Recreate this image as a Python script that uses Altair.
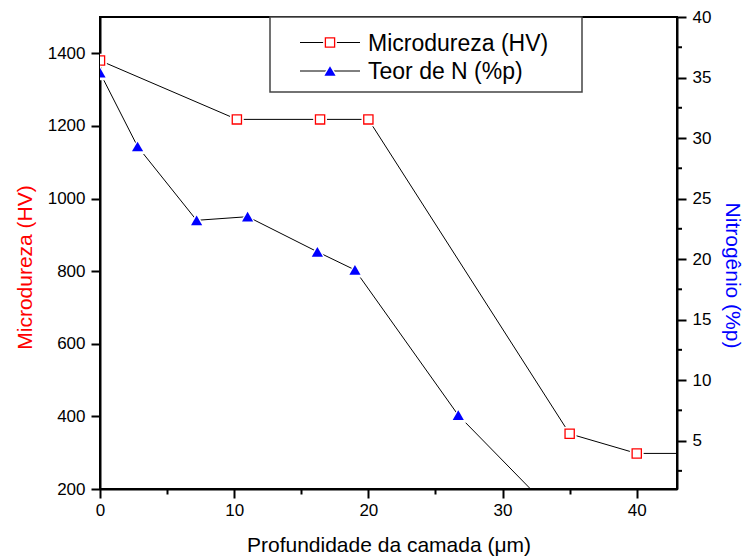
import altair as alt
import pandas as pd

# ---- data ----
depth_hv = [0.0, 10.2, 16.4, 20.0, 35.0, 40.0, 45.0]
hardness = [1380, 1218, 1218, 1218, 352, 298, 298]

depth_n = [0.0, 2.8, 7.2, 11.0, 16.2, 19.0, 26.7, 35.0]
nitrogen = [35.4, 29.3, 23.2, 23.5, 20.6, 19.1, 7.1, -2.3]

legend_labels = ["Microdureza (HV)", "Teor de N (%p)"]

x_ticks = [0, 5, 10, 15, 20, 25, 30, 35, 40]
hv_ticks = [200, 300, 400, 500, 600, 700, 800, 900, 1000, 1100, 1200, 1300, 1400]
n_major = [5, 10, 15, 20, 25, 30, 35, 40]
n_minor = [2.5, 7.5, 12.5, 17.5, 22.5, 27.5, 32.5, 37.5]

FONT = "Liberation Sans"
RED = "#FF0000"
BLUE = "#0000FF"
W, H = 577, 472

df_hv = pd.DataFrame({"depth": depth_hv, "hv": hardness})
df_n = pd.DataFrame({"depth": depth_n, "n": nitrogen})

x_scale = alt.Scale(domain=[0, 43], nice=False, zero=False)
hv_scale = alt.Scale(domain=[200, 1500], nice=False, zero=False)
n_scale = alt.Scale(domain=[1.0, 40], nice=False, zero=False)


def major_minor(test):
    return {"condition": {"test": test, "value": 9}, "value": 5}


x_axis = alt.Axis(
    values=x_ticks, format="d",
    labelExpr="datum.value % 10 === 0 ? datum.label : ''",
    tickSize=major_minor("datum.value % 10 === 0"),
    labelFlush=False, labelOverlap=False, labelPadding=4,
    title="Profundidade da camada (μm)", titleFontSize=21, titleFontWeight="normal",
    titlePadding=16, grid=False,
)
hv_axis = alt.Axis(
    orient="left", values=hv_ticks, format="d",
    labelExpr="datum.value % 200 === 0 ? datum.label : ''",
    tickSize=major_minor("datum.value % 200 === 0"),
    labelFlush=False, labelOverlap=False, labelPadding=6,
    title="Microdureza (HV)", titleColor=RED, titleFontSize=21, titleFontWeight="normal",
    titleX=-75, titleY=250, titleAngle=270, titleAlign="center", titleBaseline="middle",
    grid=False,
)
n_axis = alt.Axis(
    orient="right", values=n_major, format="d", tickSize=9,
    labelFlush=False, labelOverlap=False, labelPadding=6,
    title="Nitrogênio (%p)", titleColor=BLUE, titleFontSize=21, titleFontWeight="normal",
    titleX=54, titleY=258, titleAngle=90, titleAlign="center", titleBaseline="middle",
    grid=False,
)

# ---- left (hardness) group ----
hv_line = alt.Chart(df_hv).mark_line(color="black", strokeWidth=1, clip=True).encode(
    x=alt.X("depth:Q", scale=x_scale, axis=x_axis),
    y=alt.Y("hv:Q", scale=hv_scale, axis=hv_axis),
)
hv_halo = alt.Chart(df_hv).mark_point(shape="square", size=190, filled=True, color="white",
                                      opacity=1, clip=True).encode(
    x=alt.X("depth:Q", scale=x_scale),
    y=alt.Y("hv:Q", scale=hv_scale),
)
hv_pts = alt.Chart(df_hv).mark_point(shape="square", size=85, fill="white", stroke=RED,
                                     strokeWidth=1.3, opacity=1, fillOpacity=1, clip=True).encode(
    x=alt.X("depth:Q", scale=x_scale),
    y=alt.Y("hv:Q", scale=hv_scale),
)
left = alt.layer(hv_line, hv_halo, hv_pts)

# ---- right (nitrogen) group ----
n_line = alt.Chart(df_n).mark_line(color="black", strokeWidth=1, clip=True).encode(
    x=alt.X("depth:Q", scale=x_scale),
    y=alt.Y("n:Q", scale=n_scale, axis=n_axis),
)
n_halo = alt.Chart(df_n).mark_point(shape="triangle-up", size=300, filled=True, color="white",
                                    opacity=1, clip=True).encode(
    x=alt.X("depth:Q", scale=x_scale),
    y=alt.Y("n:Q", scale=n_scale),
)
n_pts = alt.Chart(df_n).mark_point(shape="triangle-up", size=125, filled=True, color=BLUE,
                                   opacity=1, clip=True).encode(
    x=alt.X("depth:Q", scale=x_scale),
    y=alt.Y("n:Q", scale=n_scale),
)
n_minor_ticks = alt.Chart(pd.DataFrame({"n": n_minor})).mark_tick(
    color="black", size=5, thickness=2, opacity=1, clip=False, orient="horizontal").encode(
    y=alt.Y("n:Q", scale=n_scale), x=alt.value(W + 2.5))

# ---- legend (drawn inside the right group) ----
df_box = pd.DataFrame({"label": ["legend"]})
leg_box = alt.Chart(df_box).mark_rect(fill="white", stroke="#444444", strokeWidth=1.5).encode(
    x=alt.value(170), x2=alt.value(482), y=alt.value(0), y2=alt.value(75)
)
df_l1 = pd.DataFrame({"label": [legend_labels[0]]})
df_l2 = pd.DataFrame({"label": [legend_labels[1]]})
r1y, r2y = 25.5, 54

leg_layers = [leg_box]
for dfl, yy, kind in [(df_l1, r1y, "hv"), (df_l2, r2y, "n")]:
    leg_layers.append(alt.Chart(dfl).mark_rule(color="black", strokeWidth=1).encode(
        x=alt.value(200), x2=alt.value(260), y=alt.value(yy)))
    if kind == "hv":
        leg_layers.append(alt.Chart(dfl).mark_point(shape="square", size=190, filled=True,
                                                    color="white", opacity=1).encode(
            x=alt.value(230), y=alt.value(yy)))
        leg_layers.append(alt.Chart(dfl).mark_point(shape="square", size=85, fill="white",
                                                    stroke=RED, strokeWidth=1.3, opacity=1).encode(
            x=alt.value(230), y=alt.value(yy)))
    else:
        leg_layers.append(alt.Chart(dfl).mark_point(shape="triangle-up", size=300, filled=True,
                                                    color="white", opacity=1).encode(
            x=alt.value(230), y=alt.value(yy)))
        leg_layers.append(alt.Chart(dfl).mark_point(shape="triangle-up", size=125, filled=True,
                                                    color=BLUE, opacity=1).encode(
            x=alt.value(230), y=alt.value(yy)))
    leg_layers.append(alt.Chart(dfl).mark_text(align="left", baseline="middle", fontSize=23,
                                               font=FONT, color="black").encode(
        x=alt.value(268), y=alt.value(yy + 1), text="label:N"))

right = alt.layer(n_line, n_halo, n_pts, n_minor_ticks, *leg_layers)

chart = alt.layer(left, right).resolve_scale(y="independent").properties(
    width=W, height=H,
    padding={"left": 100, "top": 17, "right": 66, "bottom": 69},
    autosize=alt.AutoSizeParams(type="none"),
    background="white",
).configure_view(
    stroke="black", strokeWidth=2
).configure_axis(
    labelFont=FONT, titleFont=FONT, labelFontSize=17, labelColor="black",
    domainColor="black", domainWidth=2, tickColor="black", tickWidth=2,
)

chart.save("out.html", embed_options={"renderer": "svg", "actions": False})
